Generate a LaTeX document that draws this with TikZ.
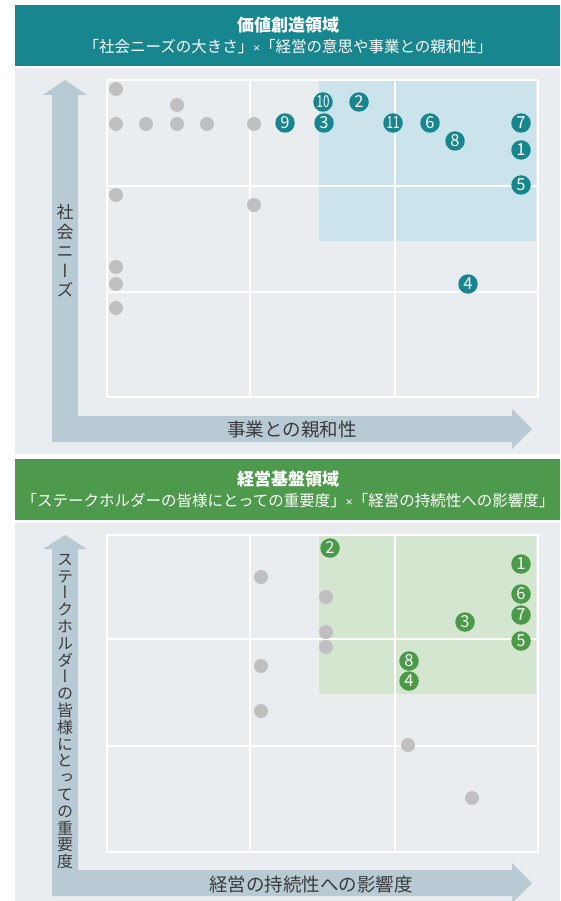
\documentclass[tikz,border=0pt]{standalone}
\usepackage{fontspec}
\newfontfamily\jpfont{Noto Sans CJK JP}
\newfontfamily\jpvert[RawFeature=+vert]{Noto Sans CJK JP}
\newfontfamily\latinfont{Noto Sans}
\definecolor{tealhead}{HTML}{17868F}
\definecolor{greenhead}{HTML}{4E9A4C}
\definecolor{panelgrey}{HTML}{E9EDF0}
\definecolor{arrowblue}{HTML}{B8CAD3}
\definecolor{zoneblue}{HTML}{CBE4EB}
\definecolor{zonegreen}{HTML}{D4E6D0}
\definecolor{dotgrey}{HTML}{C0C0C0}
\definecolor{dotgreen}{HTML}{4A9A48}
\definecolor{labeltext}{HTML}{3A3A3A}
\newcommand{\narrow}[1]{\scalebox{0.7}[1]{#1}}
\newcommand{\crossmark}{{\latinfont\fontsize{12}{12}\selectfont ×}}
\tikzset{
  greydot/.style={circle,fill=dotgrey,inner sep=0pt,minimum size=14pt},
  numdot/.style={circle,fill=#1,inner sep=0pt,minimum size=19.5pt,text=white,
    font=\jpfont\fontsize{16.5}{16.5}\selectfont},
  gridline/.style={white,line width=1.6pt},
  headtitle/.style={text=white,font=\jpfont\bfseries\fontsize{17}{17}\selectfont},
  headsub/.style={text=white,font=\jpfont\fontsize{15.5}{15.5}\selectfont},
  axislabel/.style={text=labeltext,font=\jpfont\fontsize{18.5}{18.5}\selectfont},
  vertlabel/.style={text=labeltext,align=center,inner sep=0pt}
}
\begin{document}
\begin{tikzpicture}[x=1pt,y=-1pt]
\useasboundingbox (0,0) rectangle (560,901);
\fill[white] (0,0) rectangle (560,901);

% top panel
\fill[tealhead] (15,5) rectangle (560,66);
\fill[panelgrey] (15,68) rectangle (560,454);
\node[headtitle] (ttitle) at (288,25) {価値創造領域};
\node[headsub] (tsub) at (288,47) {「社会ニーズの大きさ」\crossmark「経営の意思や事業との親和性」};
\fill[zoneblue] (319,80) rectangle (536,241);
\draw[gridline] (107,80) rectangle (538,397);
\draw[gridline] (250,80) -- (250,397) (395,80) -- (395,397);
\draw[gridline] (107,186) -- (538,186) (107,292) -- (538,292);
\fill[arrowblue] (43,95) -- (65,80) -- (87,95) -- (78,95) -- (78,416) -- (512,416)
  -- (512,409) -- (532,429) -- (512,449) -- (512,442) -- (52,442) -- (52,95) -- cycle;
\node[vertlabel,font=\jpvert\fontsize{17}{19.5}\selectfont] (tylabel) at (65,251)
  {社\\会\\ニ\\ー\\ズ};
\node[axislabel] (txlabel) at (292,429) {事業との親和性};
\foreach \x/\y [count=\i] in {116/89,177/105,116/124,146/124,177/124,207/124,254/124,
    116/195,254/205,116/267,116/284,116/308}
  \node[greydot] (tg\i) at (\x,\y) {};
\foreach \x/\y/\t in {285/123/9,323/102/{\narrow{10}},324/123/3,359/102/2,
    393/123/{\narrow{11}},430/123/6,455/141/8,521/123/7,521/150/1,521/185/5,468/284/4}
  \node[numdot=tealhead] (tn\x-\y) at (\x,\y) {\t};

% bottom panel
\fill[greenhead] (15,459) rectangle (560,520);
\fill[panelgrey] (15,523) rectangle (560,901);
\node[headtitle] (btitle) at (288,479) {経営基盤領域};
\node[headsub] (bsub) at (288,501) {「ステークホルダーの皆様にとっての重要度」\crossmark「経営の持続性への影響度」};
\fill[zonegreen] (319,535) rectangle (536,694);
\draw[gridline] (107,535) rectangle (538,852);
\draw[gridline] (250,535) -- (250,852) (395,535) -- (395,852);
\draw[gridline] (107,639) -- (538,639) (107,746) -- (538,746);
\fill[arrowblue] (43,549) -- (65,535) -- (87,549) -- (78,549) -- (78,870) -- (512,870)
  -- (512,863) -- (532,883) -- (512,903) -- (512,896) -- (52,896) -- (52,549) -- cycle;
\node[vertlabel,font=\jpvert\fontsize{16}{16.8}\selectfont] (bylabel) at (65,711.5)
  {ス\\テ\\ー\\ク\\ホ\\ル\\ダ\\ー\\の\\皆\\様\\に\\と\\っ\\て\\の\\重\\要\\度};
\node[axislabel] (bxlabel) at (311,884) {経営の持続性への影響度};
\foreach \x/\y [count=\i] in {261/577,261/666,261/711,326/597,326/632,326/647,
    408/745,472/798}
  \node[greydot] (bg\i) at (\x,\y) {};
\foreach \x/\y/\t in {330/548/2,521/564/1,521/594/6,521/615/7,465/622/3,
    521/641/5,409/661/8,409/681/4}
  \node[numdot=dotgreen] (bn\x-\y) at (\x,\y) {\t};
\end{tikzpicture}
\end{document}
